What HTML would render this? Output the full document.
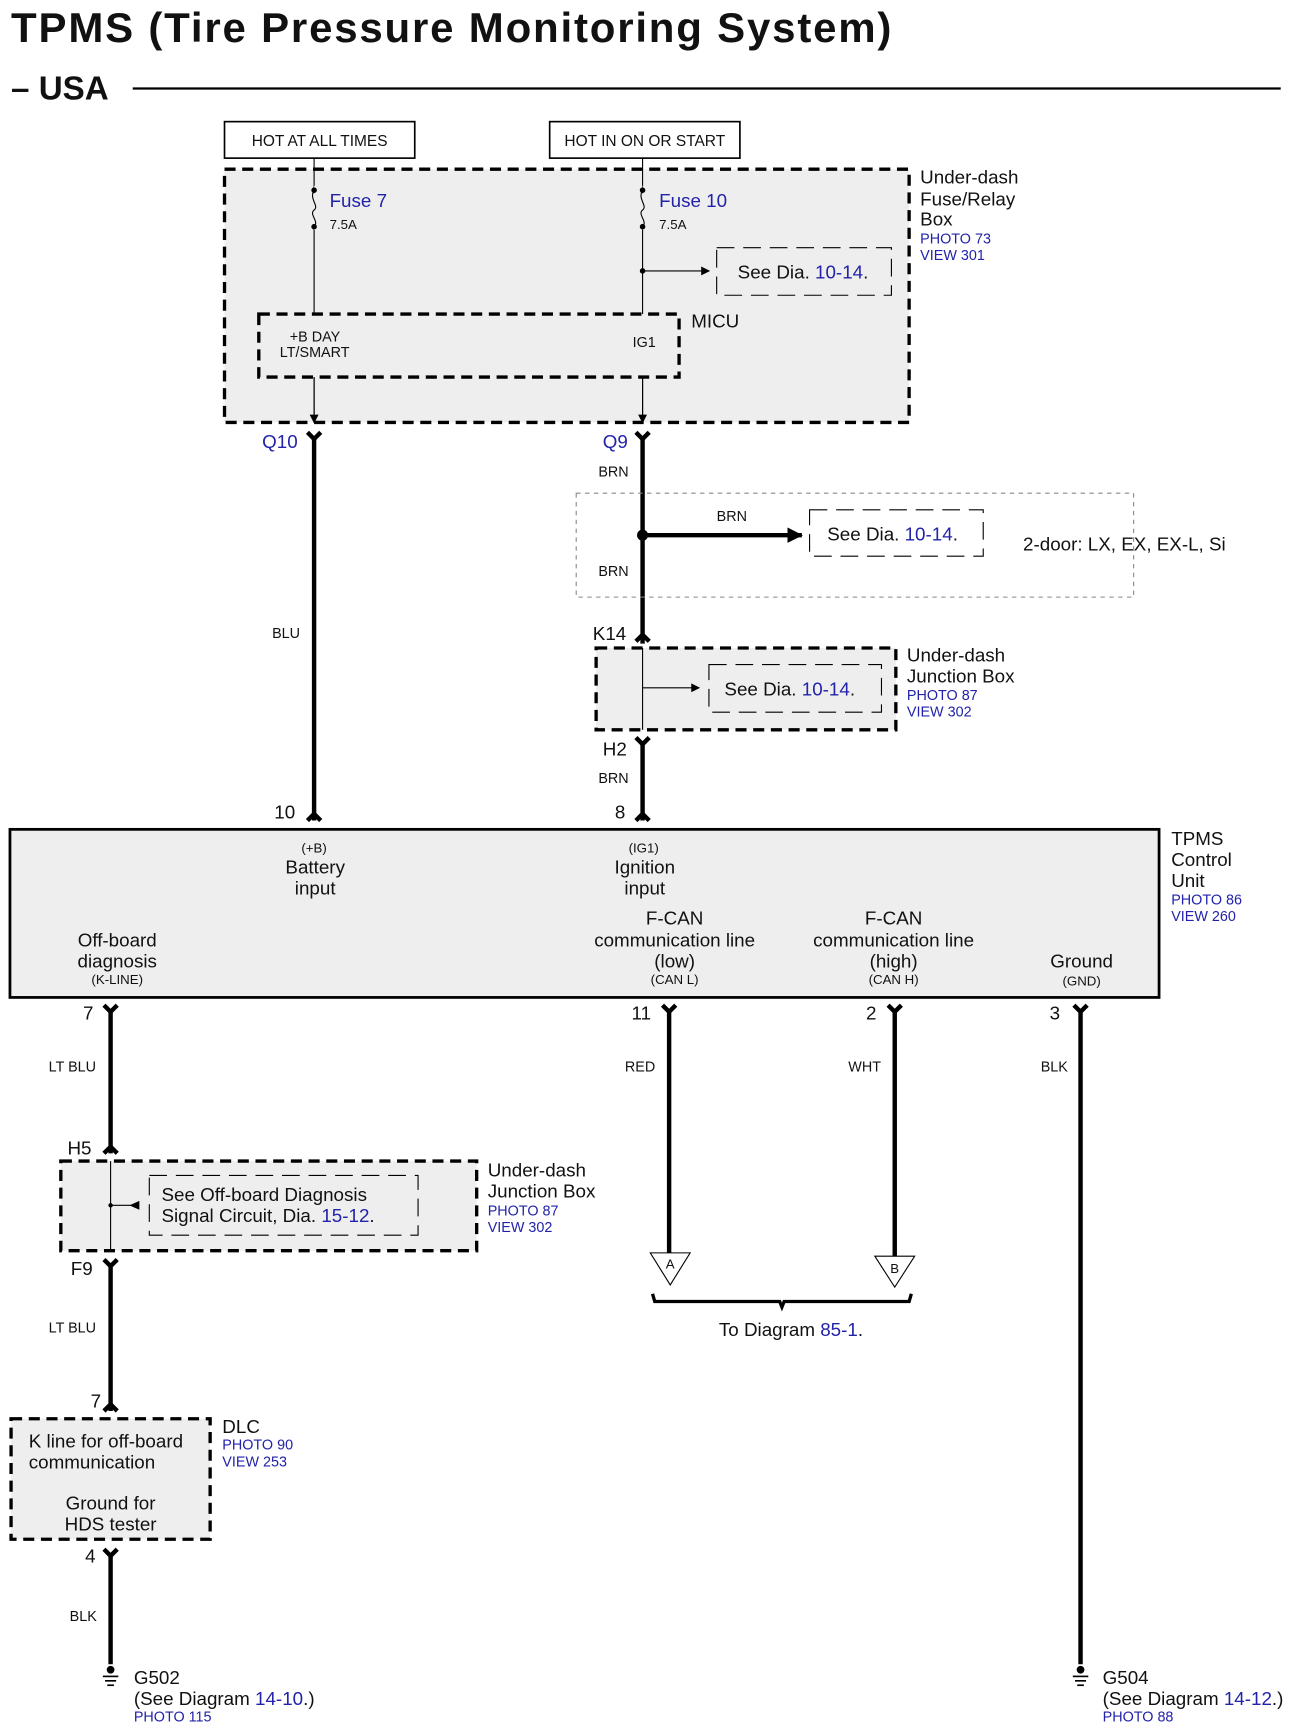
<!DOCTYPE html>
<html><head><meta charset="utf-8"><style>
html,body{margin:0;padding:0;background:#fff;width:1294px;height:1735px;overflow:hidden}
svg{display:block}
text{font-family:"Liberation Sans",sans-serif;fill:#111}
.b{fill:#2222aa}
</style></head><body>
<svg width="1294" height="1735" viewBox="0 0 1170 1569" preserveAspectRatio="none" xmlns="http://www.w3.org/2000/svg">
<defs>
<marker id="ar" markerWidth="8" markerHeight="8" refX="7" refY="4" orient="auto" markerUnits="userSpaceOnUse"><path d="M0,0 L8,4 L0,8 z" fill="#000"/></marker>
<marker id="ar2" markerWidth="14" markerHeight="14" refX="13" refY="7" orient="auto" markerUnits="userSpaceOnUse"><path d="M0,0 L14,7 L0,14 z" fill="#000"/></marker>
</defs>
<text x="10" y="38" font-size="38" font-weight="bold" textLength="796">TPMS (Tire Pressure Monitoring System)</text>
<text x="10" y="90" font-size="30" font-weight="bold">– USA</text>
<line x1="120" y1="80" x2="1158" y2="80" stroke="#000" stroke-width="2"/>

<rect x="203" y="110" width="172" height="33" fill="#fff" stroke="#000" stroke-width="1.5"/>
<text x="289" y="132" font-size="14" text-anchor="middle">HOT AT ALL TIMES</text>
<rect x="497" y="110" width="172" height="33" fill="#fff" stroke="#000" stroke-width="1.5"/>
<text x="583" y="132" font-size="14" text-anchor="middle">HOT IN ON OR START</text>

<rect x="203" y="153" width="619" height="229" fill="#eee" stroke="#000" stroke-width="3" stroke-dasharray="10,6"/>
<line x1="284" y1="143" x2="284" y2="382" stroke="#000"/>
<line x1="581" y1="143" x2="581" y2="382" stroke="#000"/>
<rect x="284" y="168" width="3" height="40" fill="#eee"/>
<rect x="581" y="168" width="3" height="40" fill="#eee"/>
<rect x="280" y="175" width="8" height="28" fill="#eee"/>
<rect x="577" y="175" width="8" height="28" fill="#eee"/>
<path d="M284,172 C279,180 289,186 284,190 C279,194 289,200 284,205" fill="none" stroke="#000"/>
<path d="M581,172 C576,180 586,186 581,190 C576,194 586,200 581,205" fill="none" stroke="#000"/>
<circle cx="284" cy="172" r="2.5"/><circle cx="284" cy="205" r="2.5"/>
<circle cx="581" cy="172" r="2.5"/><circle cx="581" cy="205" r="2.5"/>
<text x="298" y="187" font-size="17" class="b">Fuse 7</text>
<text x="298" y="207" font-size="12">7.5A</text>
<text x="596" y="187" font-size="17" class="b">Fuse 10</text>
<text x="596" y="207" font-size="12">7.5A</text>
<circle cx="581" cy="245" r="2.5"/>
<line x1="581" y1="245" x2="641" y2="245" stroke="#000" marker-end="url(#ar)"/>
<rect x="648" y="224" width="158" height="43" fill="none" stroke="#000" stroke-dasharray="16,8"/>
<text x="667" y="252" font-size="17">See Dia. <tspan class="b">10-14</tspan>.</text>
<text x="832" y="166" font-size="17">Under-dash</text>
<text x="832" y="186" font-size="17">Fuse/Relay</text>
<text x="832" y="204" font-size="17">Box</text>
<text x="832" y="220" font-size="13" class="b">PHOTO 73</text>
<text x="832" y="235" font-size="13" class="b">VIEW 301</text>

<rect x="234" y="284" width="380" height="57" fill="#eee" stroke="#000" stroke-width="3" stroke-dasharray="10,6"/>
<text x="625" y="296" font-size="17">MICU</text>
<text x="262" y="309" font-size="13">+B DAY</text>
<text x="253" y="323" font-size="13">LT/SMART</text>
<text x="572" y="314" font-size="13">IG1</text>
<line x1="284" y1="341" x2="284" y2="382" stroke="#000" marker-end="url(#ar)"/>
<line x1="581" y1="341" x2="581" y2="382" stroke="#000" marker-end="url(#ar)"/>

<text x="237" y="405" font-size="17" class="b">Q10</text>
<text x="545" y="405" font-size="17" class="b">Q9</text>
<g stroke="#000" stroke-width="4" fill="none">
<path d="M278,391 L284,397 L290,391"/><line x1="284" y1="395" x2="284" y2="742"/>
<path d="M575,391 L581,397 L587,391"/><line x1="581" y1="395" x2="581" y2="582"/>
<path d="M575,580 L581,574 L587,580"/>
<path d="M575,667 L581,673 L587,667"/><line x1="581" y1="671" x2="581" y2="742"/>
<path d="M278,742 L284,736 L290,742"/><path d="M575,742 L581,736 L587,742"/>
</g>
<text x="541" y="431" font-size="13">BRN</text>
<rect x="521" y="446" width="504" height="94" fill="none" stroke="#888" stroke-dasharray="4,4"/>
<circle cx="581" cy="484" r="5"/>
<line x1="581" y1="484" x2="725" y2="484" stroke="#000" stroke-width="4" marker-end="url(#ar2)"/>
<text x="648" y="471" font-size="13">BRN</text>
<rect x="732" y="461" width="157" height="42" fill="none" stroke="#000" stroke-dasharray="16,8"/>
<text x="748" y="489" font-size="17">See  Dia. <tspan class="b">10-14</tspan>.</text>
<text x="925" y="498" font-size="17">2-door: LX, EX, EX-L, Si</text>
<text x="541" y="521" font-size="13">BRN</text>
<text x="246" y="577" font-size="13">BLU</text>

<text x="536" y="579" font-size="17">K14</text>
<rect x="539" y="586" width="271" height="74" fill="#eee" stroke="#000" stroke-width="3" stroke-dasharray="10,6"/>
<line x1="581" y1="586" x2="581" y2="660" stroke="#000"/>
<line x1="581" y1="622" x2="632" y2="622" stroke="#000" marker-end="url(#ar)"/>
<rect x="641" y="601" width="156" height="43" fill="none" stroke="#000" stroke-dasharray="16,8"/>
<text x="655" y="629" font-size="17">See Dia. <tspan class="b">10-14</tspan>.</text>
<text x="820" y="598" font-size="17">Under-dash</text>
<text x="820" y="617" font-size="17">Junction Box</text>
<text x="820" y="633" font-size="13" class="b">PHOTO 87</text>
<text x="820" y="648" font-size="13" class="b">VIEW 302</text>
<text x="545" y="683" font-size="17">H2</text>
<text x="541" y="708" font-size="13">BRN</text>
<text x="248" y="740" font-size="17">10</text>
<text x="556" y="740" font-size="17">8</text>

<rect x="9" y="750" width="1039" height="152" fill="#eee" stroke="#000" stroke-width="2.5"/>
<g font-size="17" text-anchor="middle">
<text x="284" y="771" font-size="12">(+B)</text>
<text x="285" y="790">Battery</text><text x="285" y="809">input</text>
<text x="582" y="771" font-size="12">(IG1)</text>
<text x="583" y="790">Ignition</text><text x="583" y="809">input</text>
<text x="610" y="836">F-CAN</text><text x="610" y="856">communication line</text><text x="610" y="875">(low)</text>
<text x="610" y="890" font-size="12">(CAN L)</text>
<text x="808" y="836">F-CAN</text><text x="808" y="856">communication line</text><text x="808" y="875">(high)</text>
<text x="808" y="890" font-size="12">(CAN H)</text>
<text x="106" y="856">Off-board</text><text x="106" y="875">diagnosis</text>
<text x="106" y="890" font-size="12">(K-LINE)</text>
<text x="978" y="875">Ground</text>
<text x="978" y="891" font-size="12">(GND)</text>
</g>
<text x="1059" y="764" font-size="17">TPMS</text>
<text x="1059" y="783" font-size="17">Control</text>
<text x="1059" y="802" font-size="17">Unit</text>
<text x="1059" y="818" font-size="13" class="b">PHOTO 86</text>
<text x="1059" y="833" font-size="13" class="b">VIEW 260</text>

<text x="75" y="922" font-size="17">7</text>
<text x="571" y="922" font-size="17">11</text>
<text x="783" y="922" font-size="17">2</text>
<text x="949" y="922" font-size="17">3</text>
<g stroke="#000" stroke-width="4" fill="none">
<path d="M94,909 L100,915 L106,909"/><line x1="100" y1="913" x2="100" y2="1043"/>
<path d="M94,1043 L100,1037 L106,1043"/>
<path d="M94,1139 L100,1145 L106,1139"/><line x1="100" y1="1143" x2="100" y2="1276"/>
<path d="M94,1276 L100,1270 L106,1276"/>
<path d="M94,1401 L100,1407 L106,1401"/><line x1="100" y1="1405" x2="100" y2="1505"/>
<path d="M599,909 L605,915 L611,909"/><line x1="605" y1="913" x2="605" y2="1134"/>
<path d="M803,909 L809,915 L815,909"/><line x1="809" y1="913" x2="809" y2="1136"/>
<path d="M971,909 L977,915 L983,909"/><line x1="977" y1="913" x2="977" y2="1505"/>
</g>
<text x="44" y="969" font-size="13">LT BLU</text>
<text x="565" y="969" font-size="13">RED</text>
<text x="767" y="969" font-size="13">WHT</text>
<text x="941" y="969" font-size="13">BLK</text>

<text x="61" y="1044" font-size="17">H5</text>
<rect x="55" y="1050" width="376" height="81" fill="#eee" stroke="#000" stroke-width="3" stroke-dasharray="10,6"/>
<line x1="100" y1="1050" x2="100" y2="1131" stroke="#000"/>
<circle cx="100" cy="1090" r="2"/>
<line x1="126" y1="1090" x2="100" y2="1090" stroke="#000"/>
<path d="M117,1086 L126,1090 L117,1094z" transform="rotate(180 121.5 1090)" fill="#000"/>
<rect x="135" y="1063" width="243" height="54" fill="none" stroke="#000" stroke-dasharray="16,8"/>
<text x="146" y="1086" font-size="17">See Off-board Diagnosis</text>
<text x="146" y="1105" font-size="17">Signal Circuit, Dia. <tspan class="b">15-12</tspan>.</text>
<text x="441" y="1064" font-size="17">Under-dash</text>
<text x="441" y="1083" font-size="17">Junction Box</text>
<text x="441" y="1099" font-size="13" class="b">PHOTO 87</text>
<text x="441" y="1114" font-size="13" class="b">VIEW 302</text>
<text x="64" y="1153" font-size="17">F9</text>
<text x="44" y="1205" font-size="13">LT BLU</text>

<path d="M588,1133 L624,1133 L606,1162z" fill="#fff" stroke="#000"/>
<text x="606" y="1147" font-size="12" text-anchor="middle">A</text>
<path d="M791,1136 L827,1136 L809,1164z" fill="#fff" stroke="#000"/>
<text x="809" y="1151" font-size="12" text-anchor="middle">B</text>
<path d="M590,1170 L592,1177 L705,1177 L707,1182 L709,1177 L822,1177 L824,1170" fill="none" stroke="#000" stroke-width="3"/>
<text x="650" y="1208" font-size="17">To Diagram <tspan class="b">85-1</tspan>.</text>

<text x="82" y="1273" font-size="17">7</text>
<rect x="10" y="1283" width="180" height="109" fill="#eee" stroke="#000" stroke-width="3" stroke-dasharray="10,6"/>
<text x="26" y="1309" font-size="17">K line for off-board</text>
<text x="26" y="1328" font-size="17">communication</text>
<text x="100" y="1365" font-size="17" text-anchor="middle">Ground for</text>
<text x="100" y="1384" font-size="17" text-anchor="middle">HDS tester</text>
<text x="201" y="1296" font-size="17">DLC</text>
<text x="201" y="1311" font-size="13" class="b">PHOTO 90</text>
<text x="201" y="1326" font-size="13" class="b">VIEW 253</text>
<text x="77" y="1413" font-size="17">4</text>
<text x="63" y="1466" font-size="13">BLK</text>

<g stroke="#000" stroke-width="1.5">
<line x1="93" y1="1516" x2="107" y2="1516"/><line x1="95" y1="1520" x2="105" y2="1520"/><line x1="97" y1="1524" x2="103" y2="1524"/>
<line x1="970" y1="1516" x2="984" y2="1516"/><line x1="972" y1="1520" x2="982" y2="1520"/><line x1="974" y1="1524" x2="980" y2="1524"/>
</g>
<circle cx="100" cy="1510" r="3.5"/><circle cx="977" cy="1510" r="3.5"/>
<text x="121" y="1523" font-size="17">G502</text>
<text x="121" y="1542" font-size="17">(See Diagram <tspan class="b">14-10</tspan>.)</text>
<text x="121" y="1557" font-size="13" class="b">PHOTO 115</text>
<text x="997" y="1523" font-size="17">G504</text>
<text x="997" y="1542" font-size="17">(See Diagram <tspan class="b">14-12</tspan>.)</text>
<text x="997" y="1557" font-size="13" class="b">PHOTO 88</text>
</svg>
</body></html>
